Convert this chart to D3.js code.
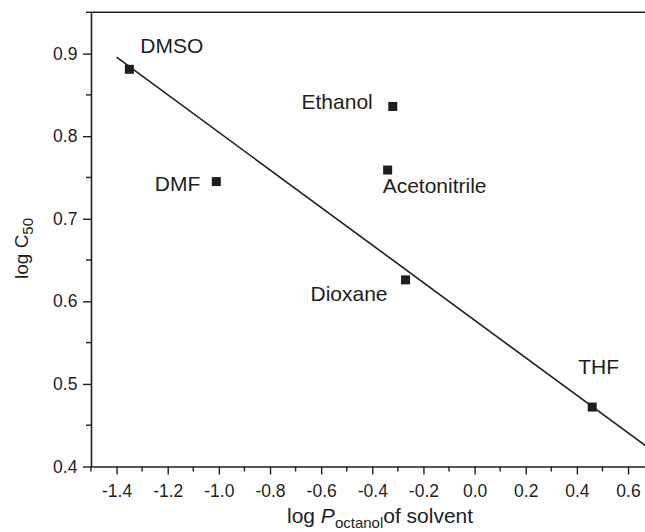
<!DOCTYPE html>
<html>
<head>
<meta charset="utf-8">
<script src="https://cdn.jsdelivr.net/npm/d3@7"></script>
<style>
  html, body { margin: 0; padding: 0; background: #fff; }
  svg { display: block; font-family: "Liberation Sans", Arial, Helvetica, sans-serif; }
</style>
</head>
<body>
<svg id="chart" width="645" height="532"></svg>
<script>
// Solvents and their measured values
const solvents = ["DMSO", "Ethanol", "Acetonitrile", "DMF", "Dioxane", "THF"];
const logP = [-1.35, -0.32, -0.34, -1.01, -0.27, 0.46];
const logC50 = [0.881, 0.836, 0.759, 0.745, 0.626, 0.472];

// Linear fit drawn across the plot
const fitX = [-1.4, 0.7];
const fitY = [0.8956, 0.418];

// Tick values
const xTicks = [-1.4, -1.2, -1.0, -0.8, -0.6, -0.4, -0.2, 0.0, 0.2, 0.4, 0.6];
const xMinorTicks = [-1.5, -1.3, -1.1, -0.9, -0.7, -0.5, -0.3, -0.1, 0.1, 0.3, 0.5];
const yTicks = [0.4, 0.5, 0.6, 0.7, 0.8, 0.9];
const yMinorTicks = [0.45, 0.55, 0.65, 0.75, 0.85, 0.95];

// Label placement relative to each marker (pixels)
const labelLayout = {
  "DMSO":         { dx: 11,  dy: -16,  anchor: "start" },
  "Ethanol":      { dx: -20, dy: 3,    anchor: "end" },
  "Acetonitrile": { dx: -5,  dy: 23,   anchor: "start" },
  "DMF":          { dx: -16, dy: 9,    anchor: "end" },
  "Dioxane":      { dx: -18, dy: 21,   anchor: "end" },
  "THF":          { dx: -14, dy: -33,  anchor: "start" }
};

const svg = d3.select("#chart");
const ink = "#1e1e1e";
const fmt = d => d3.format(".1f")(d).replace("\u2212", "-");

const x = d3.scaleLinear().domain([-1.5, 0.7]).range([91, 653.6]);
const y = d3.scaleLinear().domain([0.4, 0.95]).range([466.5, 12.3]);

const plot = svg.append("g");

// Fit line
plot.append("line")
  .attr("x1", x(fitX[0])).attr("y1", y(fitY[0]))
  .attr("x2", x(fitX[1])).attr("y2", y(fitY[1]))
  .attr("stroke", ink).attr("stroke-width", 1.6);

// Square markers
const pts = solvents.map((s, i) => ({ name: s, x: logP[i], y: logC50[i] }));
const m = 9;
plot.selectAll("rect.pt").data(pts).enter().append("rect")
  .attr("class", "pt")
  .attr("x", d => x(d.x) - m / 2)
  .attr("y", d => y(d.y) - m / 2)
  .attr("width", m).attr("height", m)
  .attr("fill", ink);

// Point labels
plot.selectAll("text.lbl").data(pts).enter().append("text")
  .attr("class", "lbl")
  .attr("x", d => x(d.x) + labelLayout[d.name].dx)
  .attr("y", d => y(d.y) + labelLayout[d.name].dy)
  .attr("text-anchor", d => labelLayout[d.name].anchor)
  .attr("font-size", 21)
  .attr("fill", ink)
  .text(d => d.name);

// Bottom axis
const xAxis = svg.append("g").attr("transform", `translate(0,${y(0.4)})`)
  .call(d3.axisBottom(x).tickValues(xTicks).tickSize(8).tickSizeOuter(0)
    .tickFormat(fmt));
xAxis.append("g").selectAll("line").data(xMinorTicks).enter().append("line")
  .attr("x1", d => x(d)).attr("x2", d => x(d))
  .attr("y1", 0).attr("y2", 5);

// Left axis
const yAxis = svg.append("g").attr("transform", `translate(${x(-1.5)},0)`)
  .call(d3.axisLeft(y).tickValues(yTicks).tickSize(8).tickSizeOuter(0)
    .tickFormat(fmt));
yAxis.append("g").selectAll("line").data(yMinorTicks).enter().append("line")
  .attr("y1", d => y(d)).attr("y2", d => y(d))
  .attr("x1", 0).attr("x2", -5);

[xAxis, yAxis].forEach(a => {
  a.select(".domain").attr("stroke", ink).attr("stroke-width", 1.6);
  a.selectAll("line").attr("stroke", ink).attr("stroke-width", 1.4);
  a.selectAll("text").attr("fill", ink).attr("font-size", 17.5)
    .attr("font-family", "'Liberation Sans', Arial, sans-serif");
});
xAxis.selectAll(".tick text").attr("dy", "1.1em");
yAxis.selectAll(".tick text").attr("dx", "-0.15em");

// Top frame line
svg.append("line")
  .attr("x1", x(-1.5)).attr("x2", x(0.7))
  .attr("y1", y(0.95)).attr("y2", y(0.95))
  .attr("stroke", ink).attr("stroke-width", 1.6);

// X axis title
const xt = svg.append("text")
  .attr("x", 287).attr("y", 523)
  .attr("font-size", 21).attr("fill", ink);
xt.append("tspan").text("log ");
xt.append("tspan").attr("font-style", "italic").text("P");
xt.append("tspan").attr("font-size", 15).attr("dy", 5).text("octanol");
xt.append("tspan").attr("dy", -5).text("of solvent");

// Y axis title
const yt = svg.append("text")
  .attr("transform", "translate(28,279) rotate(-90)")
  .attr("font-size", 19).attr("fill", ink);
yt.append("tspan").text("log C");
yt.append("tspan").attr("font-size", 15).attr("dy", 5).text("50");
</script>
</body>
</html>
